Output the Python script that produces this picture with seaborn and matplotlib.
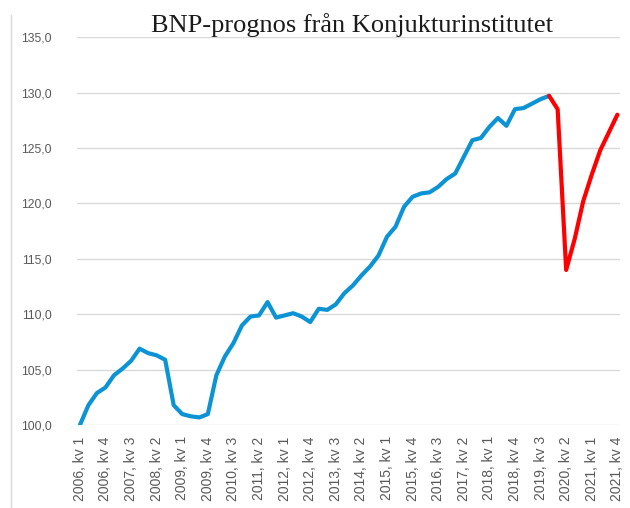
import numpy as np
import pandas as pd
import seaborn as sns
import matplotlib.pyplot as plt
from matplotlib.lines import Line2D
from matplotlib.ticker import FuncFormatter

# BNP index, quarterly 2006 kv1 - 2019 kv4 (utfall)
utfall = [100.0, 101.8, 102.9, 103.4, 104.5, 105.1, 105.8, 106.9, 106.5, 106.3,
          105.9, 101.8, 101.0, 100.8, 100.7, 101.0, 104.5, 106.2, 107.4, 109.0,
          109.8, 109.9, 111.1, 109.7, 109.9, 110.1, 109.8, 109.3, 110.5, 110.4,
          110.9, 111.9, 112.6, 113.5, 114.3, 115.3, 117.0, 117.9, 119.7, 120.6,
          120.9, 121.0, 121.5, 122.2, 122.7, 124.2, 125.7, 125.9, 126.9, 127.7,
          127.0, 128.5, 128.6, 129.0, 129.4, 129.7]
# prognos 2019 kv4 - 2021 kv4
prognos = [129.7, 128.5, 114.0, 116.8, 120.2, 122.6, 124.8, 126.4, 128.0]

years = range(2006, 2022)
kvartal = [f"{y}, kv {q}" for y in years for q in range(1, 5)]

df_utfall = pd.DataFrame({'idx': np.arange(len(utfall)), 'bnp': utfall})
start = len(utfall) - 1
df_prognos = pd.DataFrame({'idx': np.arange(start, start + len(prognos)), 'bnp': prognos})

sns.set_style("white")
plt.rcParams['font.family'] = ['Liberation Sans', 'DejaVu Sans']

fig = plt.figure(figsize=(6.3, 5.08), dpi=100)
ax = fig.add_axes([0.122, 0.163, 0.862, 0.764])

sns.lineplot(x='idx', y='bnp', data=df_utfall, color='#0b93d5', lw=3.0, ax=ax)
sns.lineplot(x='idx', y='bnp', data=df_prognos, color='#ff0000', lw=3.0, ax=ax)

ax.set_ylim(100, 135)
ax.set_xlim(-0.35, 63.3)
ax.set_yticks(np.arange(100, 136, 5))
ax.yaxis.set_major_formatter(FuncFormatter(lambda v, p: f"{v:.1f}".replace('.', ',')))
ticks = list(range(0, len(kvartal), 3))
ax.set_xticks(ticks)
ax.set_xticklabels([kvartal[i] for i in ticks], rotation=90)
ax.tick_params(axis='both', colors='#595959', length=0)
ax.tick_params(axis='y', labelsize=8.8, pad=18)
ax.tick_params(axis='x', labelsize=10, pad=8)
ax.grid(axis='y', color='#d9d9d9', lw=1)
ax.set_axisbelow(True)
for s in ax.spines.values():
    s.set_visible(False)
ax.set_xlabel('')
ax.set_ylabel('')

fig.text(0.559, 0.951, 'BNP-prognos från Konjukturinstitutet', ha='center', va='center',
         fontsize=19, family=['Liberation Serif', 'DejaVu Serif'], color='#1a1a1a')

# chart border on the left edge
fig.add_artist(Line2D([0.017, 0.017], [0.0, 0.97], transform=fig.transFigure, color='#d9d9d9', lw=1))

fig.savefig('out.png', dpi=100)
